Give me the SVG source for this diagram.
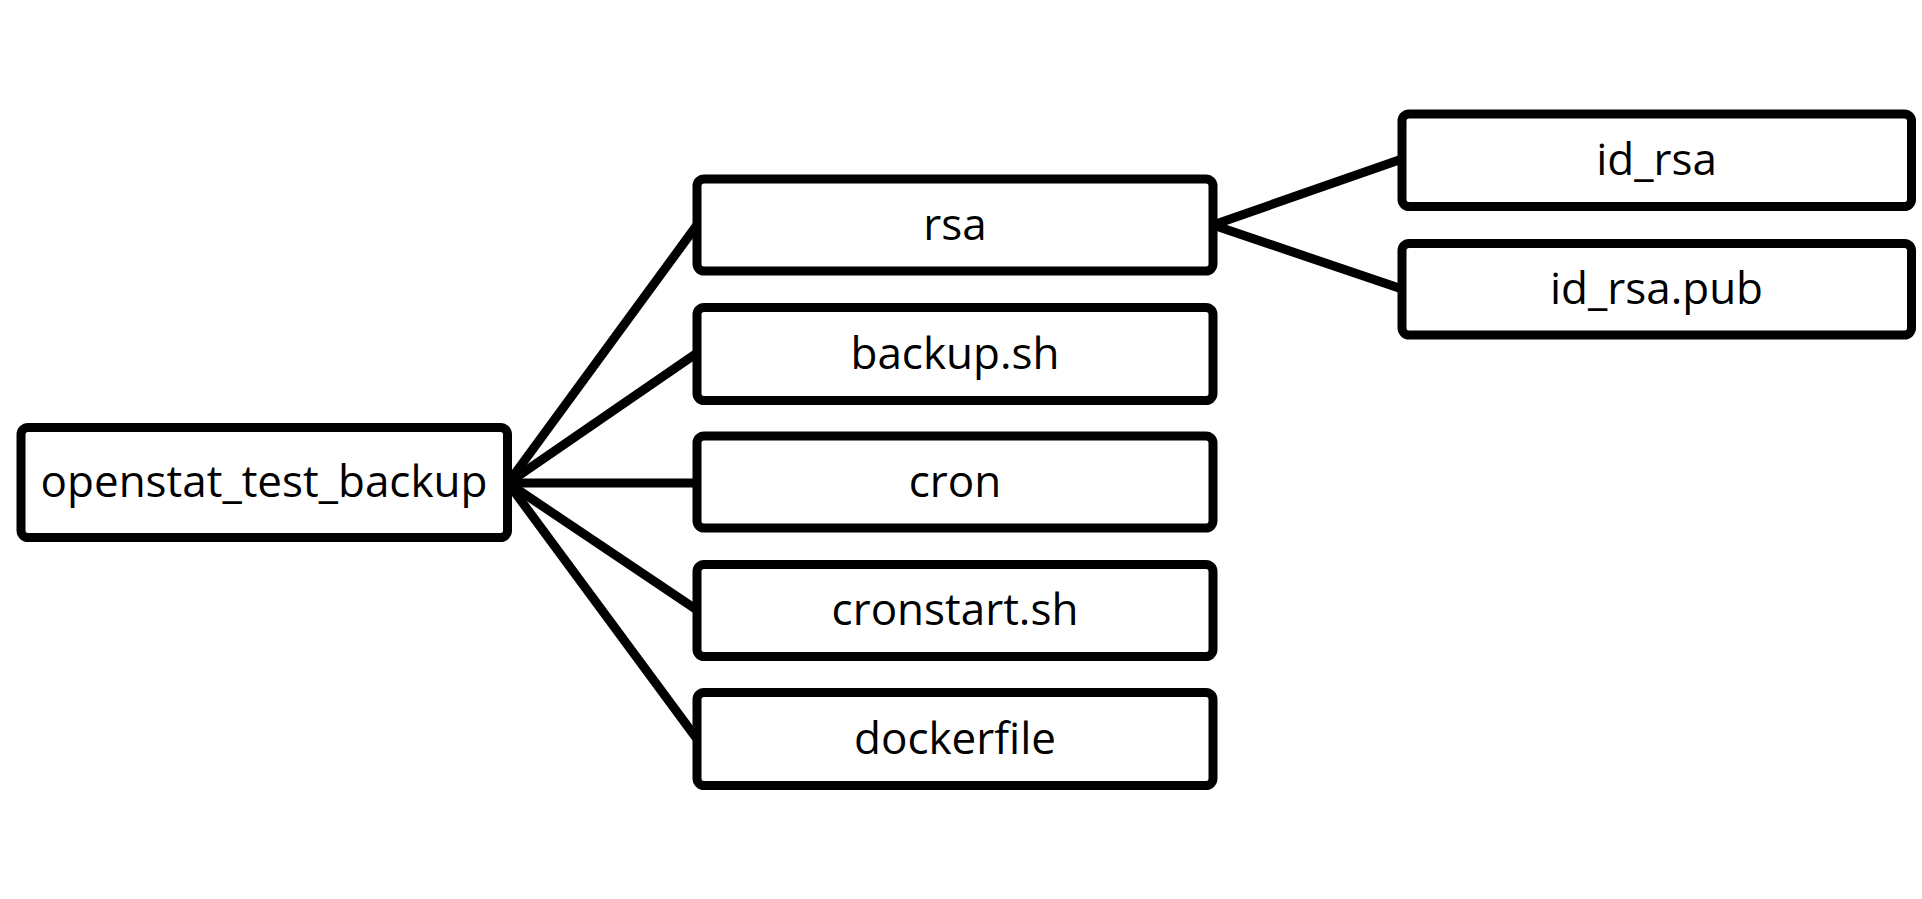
<svg xmlns="http://www.w3.org/2000/svg" width="1922" height="899" viewBox="0 0 1922 899">
<style>
.box{fill:#fff;stroke:#000;stroke-width:9;}
.lbl{font-family:"Open Sans","Noto Sans",sans-serif;font-size:44px;fill:#000;text-anchor:middle;}
.edge{stroke:#000;stroke-width:9;fill:none;}
</style>
<rect width="1922" height="899" fill="#fff"/>
<g id="connectors">
<line class="edge" x1="508" y1="483" x2="697" y2="225"/>
<line class="edge" x1="508" y1="483" x2="697" y2="353"/>
<line class="edge" x1="508" y1="483" x2="697" y2="483"/>
<line class="edge" x1="508" y1="483" x2="697" y2="610"/>
<line class="edge" x1="508" y1="483" x2="697" y2="739"/>
<line class="edge" x1="1213" y1="225" x2="1402" y2="159"/>
<line class="edge" x1="1213" y1="225" x2="1402" y2="289"/>
</g>
<g id="node-root"><rect class="box" x="21" y="427.5" width="486.5" height="110" rx="7"/><text class="lbl" x="264" y="497">openstat_test_backup</text></g>
<g id="node-rsa"><rect class="box" x="697" y="179" width="516" height="92" rx="7"/><text class="lbl" x="955" y="240">rsa</text></g>
<g id="node-backup"><rect class="box" x="697" y="307.5" width="516" height="93" rx="7"/><text class="lbl" x="955" y="369">backup.sh</text></g>
<g id="node-cron"><rect class="box" x="697" y="436" width="516" height="92" rx="7"/><text class="lbl" x="955" y="497">cron</text></g>
<g id="node-cronstart"><rect class="box" x="697" y="564.5" width="516" height="92" rx="7"/><text class="lbl" x="955" y="625">cronstart.sh</text></g>
<g id="node-dockerfile"><rect class="box" x="697" y="692.5" width="516" height="93" rx="7"/><text class="lbl" x="955" y="754">dockerfile</text></g>
<g id="node-id_rsa"><rect class="box" x="1402" y="114" width="509.5" height="92.5" rx="7"/><text class="lbl" x="1656.5" y="175">id_rsa</text></g>
<g id="node-id_rsa_pub"><rect class="box" x="1402" y="243.5" width="509.5" height="91.5" rx="7"/><text class="lbl" x="1656.5" y="304">id_rsa.pub</text></g>
</svg>
